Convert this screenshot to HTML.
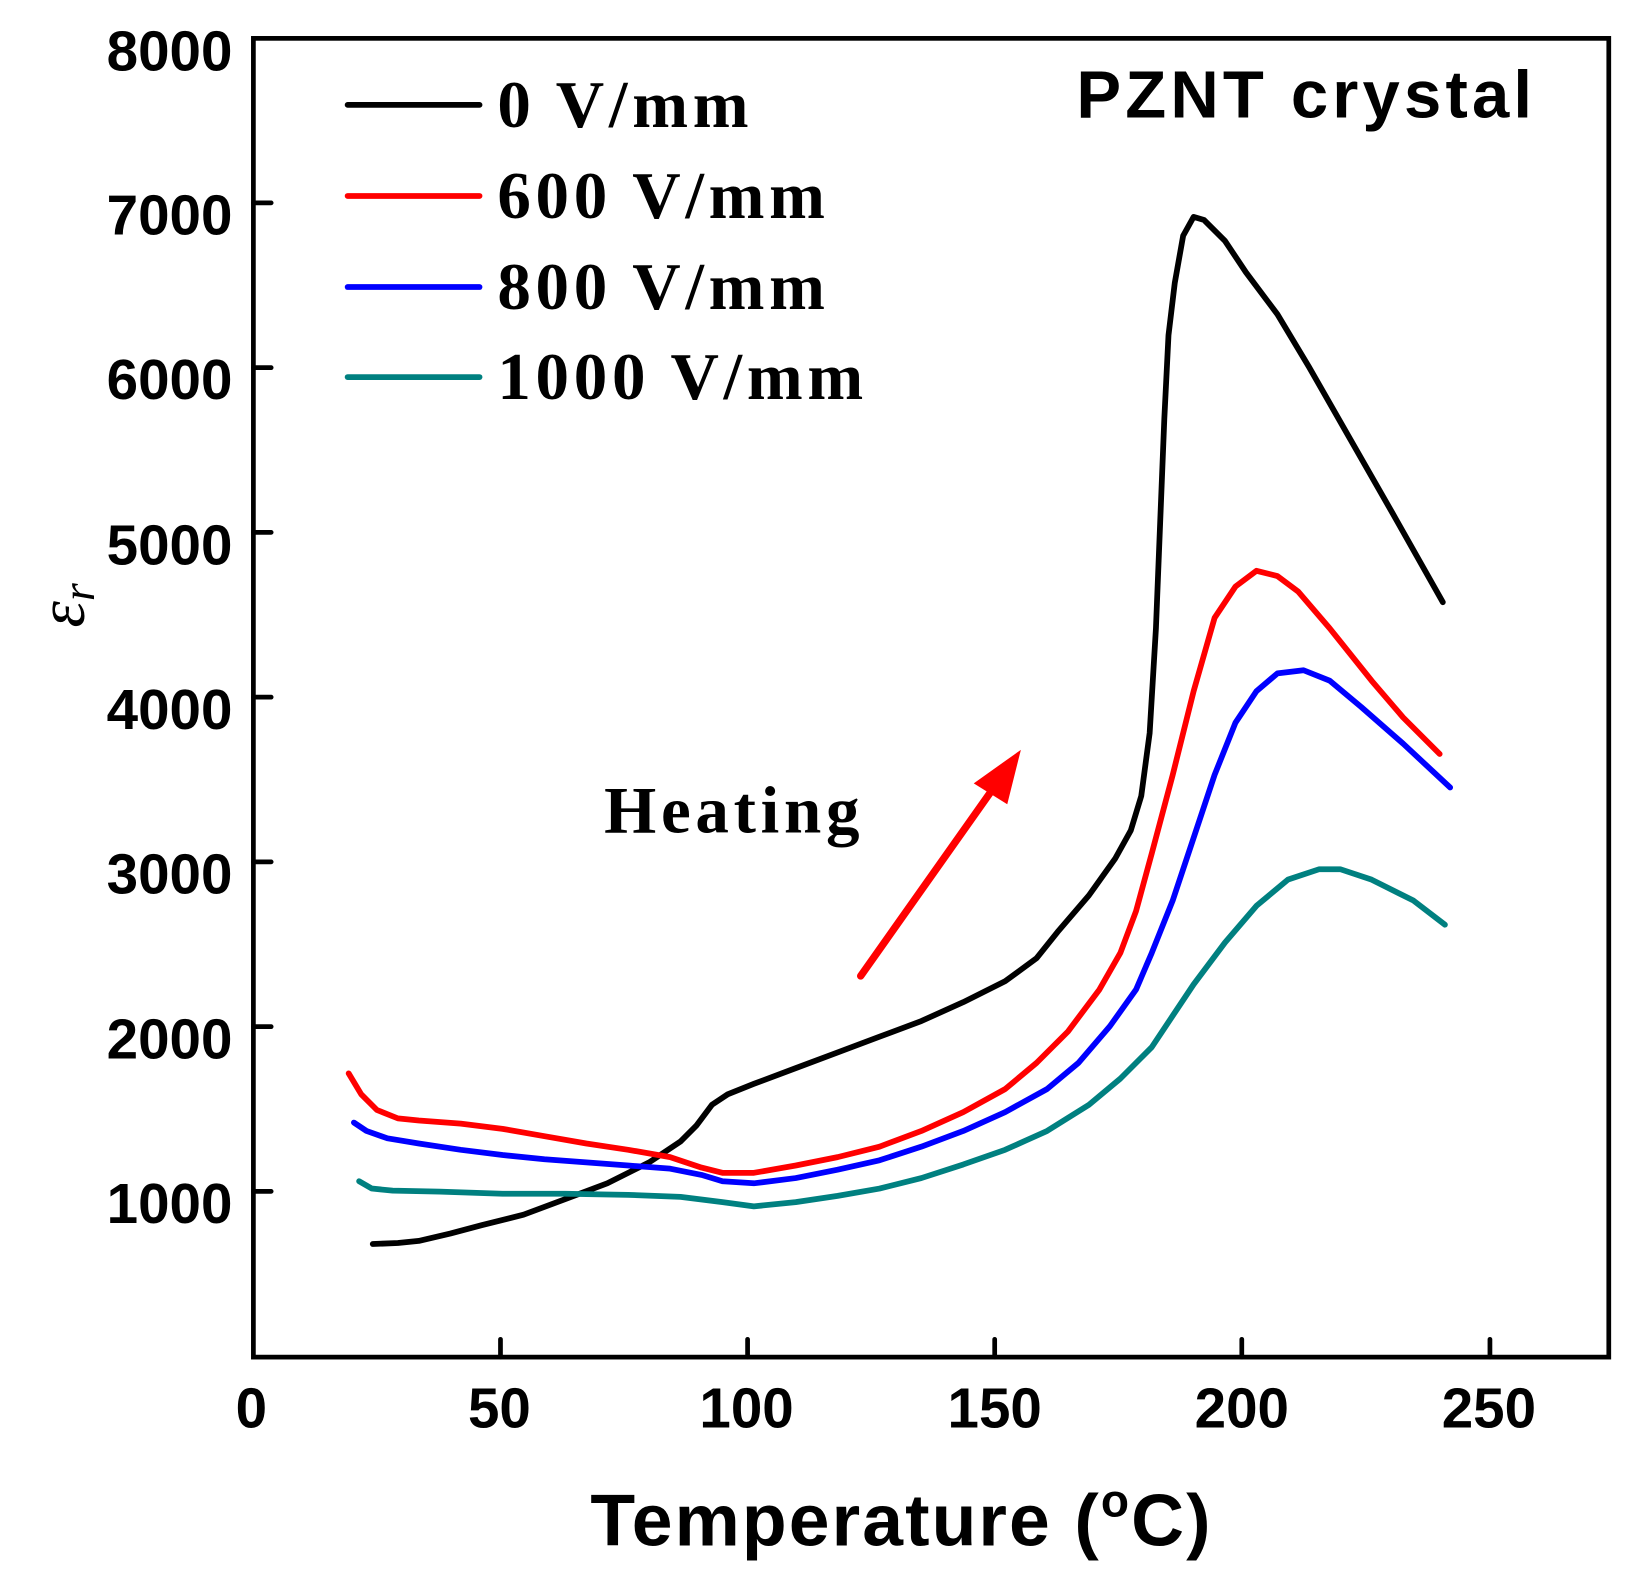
<!DOCTYPE html>
<html><head><meta charset="utf-8"><style>html,body{margin:0;padding:0;background:#fff}svg{display:block}</style></head><body>
<svg width="1636" height="1574" viewBox="0 0 1562.5 1503" xmlns="http://www.w3.org/2000/svg">
<rect width="1562.5" height="1503" fill="#fff"/>
<g stroke="#000" stroke-width="4.5" fill="none" stroke-linecap="round">
<rect x="242" y="36.5" width="1294.5" height="1259.5"/>
<path d="M478 1296v-17M714 1296v-17M950 1296v-17M1186 1296v-17M1423 1296v-17"/>
<path d="M242 193.6h17M242 351h17M242 508.3h17M242 665.7h17M242 823h17M242 980.4h17M242 1137.7h17"/>
</g>
<g font-family="Liberation Sans, sans-serif" font-weight="bold" font-size="54" text-anchor="end">
<text x="222" y="67">8000</text><text x="222" y="224">7000</text><text x="222" y="381">6000</text><text x="222" y="539">5000</text><text x="222" y="696">4000</text><text x="222" y="853">3000</text><text x="222" y="1011">2000</text><text x="222" y="1168">1000</text>
</g>
<g font-family="Liberation Sans, sans-serif" font-weight="bold" font-size="54" text-anchor="middle">
<text x="240" y="1363">0</text><text x="477" y="1363">50</text><text x="713" y="1363">100</text><text x="950" y="1363">150</text><text x="1186" y="1363">200</text><text x="1422" y="1363">250</text>
</g>
<text x="861" y="1476" font-family="Liberation Sans, sans-serif" font-weight="bold" font-size="70" letter-spacing="2" text-anchor="middle">Temperature (<tspan font-size="44" dy="-28">o</tspan><tspan dy="28">C)</tspan></text>
<text transform="translate(80,578) rotate(-90)" font-family="Liberation Serif, serif" font-style="italic" font-size="64" text-anchor="middle">ε<tspan font-size="44" dy="10">r</tspan></text>
<text x="1028" y="112" font-family="Liberation Sans, sans-serif" font-weight="bold" font-size="64" letter-spacing="4">PZNT crystal</text>
<text x="577" y="795" font-family="Liberation Serif, serif" font-weight="bold" font-size="64" letter-spacing="4.5">Heating</text>
<g font-family="Liberation Serif, serif" font-weight="bold" font-size="64" letter-spacing="4.5">
<text x="475" y="121">0 V/mm</text><text x="475" y="208">600 V/mm</text><text x="475" y="295">800 V/mm</text><text x="475" y="381">1000 V/mm</text>
</g>
<g stroke-width="5.5" stroke-linecap="round" fill="none">
<path d="M332 100H458" stroke="#000"/><path d="M332 187H458" stroke="#f00"/><path d="M332 274H458" stroke="#00f"/><path d="M332 360H458" stroke="#008080"/>
</g>
<g fill="none" stroke-width="5.5" stroke-linejoin="round" stroke-linecap="round">
<polyline stroke="#000" points="356,1188 380,1187 400,1185 430,1178 460,1170 500,1160 540,1145 580,1130 620,1110 650,1090 665,1075 680,1055 695,1045 720,1035 760,1020 800,1005 840,990 880,975 920,957 960,937 990,915 1010,890 1040,855 1065,820 1080,793 1090,760 1098,700 1104,600 1108,500 1112,400 1116,320 1122,270 1130,225 1140,207 1150,210 1170,230 1190,260 1220,300 1250,350 1290,420 1330,490 1378,575"/>
<polyline stroke="#f00" points="333,1025 345,1045 360,1060 380,1068 400,1070 440,1073 480,1078 520,1085 560,1092 600,1098 640,1105 670,1115 690,1120 720,1120 760,1113 800,1105 840,1095 880,1080 920,1062 960,1040 990,1015 1020,985 1050,945 1070,910 1085,870 1100,815 1120,740 1140,660 1160,590 1180,560 1200,545 1220,550 1240,565 1270,600 1310,650 1340,685 1375,720"/>
<polyline stroke="#00f" points="338,1072 350,1080 370,1087 400,1092 440,1098 480,1103 520,1107 560,1110 600,1113 640,1116 670,1122 690,1128 720,1130 760,1125 800,1117 840,1108 880,1095 920,1080 960,1062 1000,1040 1030,1015 1060,980 1085,945 1100,910 1120,860 1140,800 1160,740 1180,690 1200,660 1220,643 1245,640 1270,650 1300,675 1340,710 1385,752"/>
<polyline stroke="#008080" points="343,1128 355,1135 375,1137 420,1138 480,1140 540,1140 600,1141 650,1143 690,1148 720,1152 760,1148 800,1142 840,1135 880,1125 920,1112 960,1098 1000,1080 1040,1055 1070,1030 1100,1000 1120,970 1140,940 1170,900 1200,865 1230,840 1260,830 1280,830 1310,840 1350,860 1380,883"/>
</g>
<line x1="822" y1="932" x2="952" y2="748" stroke="#f00" stroke-width="7" stroke-linecap="round"/>
<polygon points="975,716 930,748 962,768" fill="#f00"/>
</svg>
</body></html>
